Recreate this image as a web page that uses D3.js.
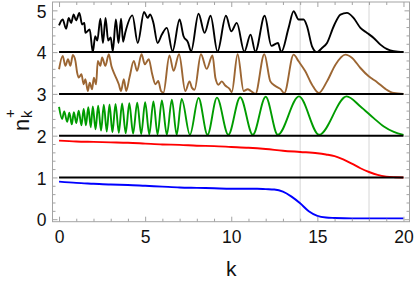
<!DOCTYPE html>
<html><head><meta charset="utf-8">
<script src="https://cdn.jsdelivr.net/npm/d3@7"></script>
<style>
html,body{margin:0;padding:0;background:#fff;}
svg{display:block;font-family:"Liberation Sans",Arial,sans-serif;}
</style></head>
<body><svg id="c" width="415" height="281"></svg>
<script>
// ---------- data ----------
const baseLevels = [1, 2, 3, 4];
const gridK = [14, 18];
const xMajorTicks = [0, 5, 10, 15, 20];
const yMajorTicks = [0, 1, 2, 3, 4, 5];

const blueK = [0,1,2,3,4,5,6,7,8,9,10,11,11.5,12,12.5,13,13.5,14,14.5,15,15.5,16,17,18,19,20];
const blueN = [0.90,0.87,0.85,0.83,0.82,0.80,0.78,0.76,0.75,0.74,0.73,0.73,0.73,0.72,0.71,0.66,0.54,0.38,0.19,0.08,0.04,0.03,0.02,0.02,0.02,0.02];

const redK = [0,1,2,3,4,5,6,7,8,9,10,11,12,13,14,15,15.5,16,16.5,17,17.5,18,18.5,19,19.5,20];
const redN = [1.88,1.86,1.85,1.84,1.83,1.81,1.79,1.78,1.76,1.75,1.73,1.71,1.68,1.64,1.61,1.58,1.55,1.51,1.43,1.33,1.22,1.13,1.06,1.02,1.005,1.0];

const greenK = [0,0.18,0.30,0.47,0.60,0.74,0.86,1.00,1.14,1.30,1.43,1.56,1.70,1.84,1.96,2.12,2.27,2.44,2.60,2.77,2.93,3.10,3.28,3.47,3.66,3.87,4.08,4.30,4.54,4.77,5.00,5.24,5.48,5.72,5.97,6.26,6.55,6.83,7.12,7.60,8.10,8.62,9.17,9.83,10.52,11.25,12.00,12.70,13.93,15.10,16.70,17.50,18.27,18.86,19.44,20];
const greenN = [2.69,2.40,2.58,2.33,2.55,2.27,2.56,2.30,2.60,2.25,2.64,2.25,2.68,2.20,2.70,2.15,2.72,2.12,2.74,2.10,2.75,2.08,2.76,2.07,2.77,2.06,2.78,2.05,2.79,2.04,2.80,2.03,2.82,2.03,2.84,2.02,2.86,2.02,2.88,2.02,2.90,2.02,2.91,2.02,2.92,2.02,2.93,2.02,2.94,2.02,2.94,2.70,2.42,2.22,2.09,2.02];

const brownK = [0,0.21,0.37,0.52,0.66,0.80,0.95,1.05,1.14,1.30,1.43,1.53,1.67,1.78,1.92,2.02,2.15,2.25,2.40,2.50,2.69,2.89,3.04,3.18,3.31,3.47,3.60,3.76,3.90,4.09,4.34,4.53,4.79,4.98,5.21,5.41,5.60,5.76,5.92,6.06,6.41,6.65,6.97,7.33,7.58,7.71,7.87,8.24,8.57,8.91,9.08,9.26,9.45,9.65,9.90,10.03,10.37,10.72,10.95,11.14,11.40,11.92,12.27,12.56,12.85,13.08,13.62,13.91,14.30,14.69,15.08,15.56,16.05,16.63,17.02,17.50,17.98,18.47,18.95,19.44,20];
const brownN = [3.59,3.91,3.67,3.83,3.67,3.93,3.79,3.51,3.39,3.47,3.23,3.35,3.07,3.27,3.11,3.39,3.23,3.79,3.67,3.87,3.67,3.95,3.67,3.51,3.39,3.23,3.07,3.35,3.07,3.39,3.79,3.55,3.95,3.71,3.83,3.47,3.23,3.31,3.07,3.03,3.92,3.55,3.95,3.07,3.30,3.15,3.10,3.95,3.60,3.92,3.38,3.22,3.30,3.20,3.12,3.04,3.95,3.07,3.11,3.07,3.00,3.95,3.30,3.19,3.12,3.02,3.94,3.78,3.54,3.22,3.02,3.30,3.70,3.94,3.86,3.62,3.42,3.28,3.12,3.02,3.00];

const blackK = [0,0.21,0.41,0.56,0.70,0.85,0.99,1.18,1.34,1.47,1.53,1.78,1.96,2.10,2.22,2.40,2.55,2.70,2.85,3.00,3.12,3.30,3.45,3.60,3.72,3.84,4.26,4.57,4.94,5.14,5.29,5.48,5.72,5.97,6.26,6.59,7.00,7.23,7.48,7.67,8.10,8.45,8.80,9.20,9.69,10.00,10.32,10.76,11.12,11.40,11.94,12.33,12.71,12.90,13.33,13.62,13.91,14.20,14.40,14.69,14.98,15.27,15.56,15.95,16.34,16.72,17.10,17.50,17.89,18.27,18.66,19.05,19.44,20];
const blackN = [4.64,4.78,4.56,4.82,4.70,4.90,4.76,4.94,4.66,4.70,4.46,4.54,4.00,4.38,4.28,4.80,4.22,4.82,4.28,4.35,4.02,4.78,4.22,4.80,4.25,4.46,4.88,4.22,4.96,4.82,4.90,4.70,4.22,4.42,4.58,4.02,4.78,4.38,4.24,4.02,4.92,4.46,4.87,4.01,4.87,4.50,4.70,4.01,4.42,4.01,4.87,4.15,4.22,4.00,4.58,4.98,4.78,4.78,4.62,4.14,4.00,4.10,4.22,4.62,4.90,4.94,4.82,4.58,4.46,4.34,4.18,4.07,4.02,4.00];

const series = [
  {k: blueK,  n: blueN,  color: "#0000ff"},
  {k: redK,   n: redN,   color: "#ff0000"},
  {k: greenK, n: greenN, color: "#009c00"},
  {k: brownK, n: brownN, color: "#9c6633"},
  {k: blackK, n: blackN, color: "#000000"}
];

// ---------- chart ----------
const svg = d3.select("#c");
const L = 52.5, R = 409.5, T = 2, B = 221.7;
const x = d3.scaleLinear().domain([-0.38, 20.35]).range([L, R]);
const y = d3.scaleLinear().domain([-0.06, 5.2]).range([B, T]);
const frameColor = "#a3a3a3";

// grid lines
svg.append("g").selectAll("line").data(gridK).join("line")
  .attr("x1", d => x(d)).attr("x2", d => x(d))
  .attr("y1", T).attr("y2", B)
  .attr("stroke", "#d6d6d6").attr("stroke-width", 1);

// curves
const line = d3.line().x(d => x(d[0])).y(d => y(d[1])).curve(d3.curveMonotoneX);
series.forEach(s => {
  svg.append("path")
    .datum(s.k.map((k, i) => [k, s.n[i]]))
    .attr("fill", "none").attr("stroke", s.color)
    .attr("stroke-width", 1.9).attr("stroke-linejoin", "round")
    .attr("d", line);
});

// baseline black lines
svg.append("g").selectAll("line").data(baseLevels).join("line")
  .attr("x1", x(0)).attr("x2", x(20))
  .attr("y1", d => y(d)).attr("y2", d => y(d))
  .attr("stroke", "#000").attr("stroke-width", 2);

// frame
svg.append("rect").attr("x", L).attr("y", T).attr("width", R - L).attr("height", B - T)
  .attr("fill", "none").attr("stroke", frameColor).attr("stroke-width", 1);

const xMinor = d3.range(0, 21, 1).filter(v => !xMajorTicks.includes(v));
const yMinor = d3.range(0, 26, 1).map(v => +(v * 0.2).toFixed(1)).filter(v => !yMajorTicks.includes(v));

function styleAxis(g) {
  g.select(".domain").remove();
  g.selectAll(".tick line").attr("stroke", frameColor);
  g.selectAll(".tick text").attr("fill", "#111").style("font-size", "17.5px")
    .style("font-family", '"Liberation Sans", Arial, sans-serif');
}

// bottom
svg.append("g").attr("transform", `translate(0,${B})`)
  .call(d3.axisBottom(x).tickValues(xMajorTicks).tickSize(-5).tickPadding(9).tickFormat(d3.format("d")))
  .call(styleAxis);
svg.append("g").attr("transform", `translate(0,${B})`)
  .call(d3.axisBottom(x).tickValues(xMinor).tickSize(-3).tickFormat(""))
  .call(styleAxis);
// top
svg.append("g").attr("transform", `translate(0,${T})`)
  .call(d3.axisTop(x).tickValues(xMajorTicks).tickSize(-5).tickFormat(""))
  .call(styleAxis);
svg.append("g").attr("transform", `translate(0,${T})`)
  .call(d3.axisTop(x).tickValues(xMinor).tickSize(-3).tickFormat(""))
  .call(styleAxis);
// left
svg.append("g").attr("transform", `translate(${L},0)`)
  .call(d3.axisLeft(y).tickValues(yMajorTicks).tickSize(-5).tickPadding(6).tickFormat(d3.format("d")))
  .call(styleAxis)
  .call(g => g.selectAll(".tick text").attr("dy", "0.38em"));
svg.append("g").attr("transform", `translate(${L},0)`)
  .call(d3.axisLeft(y).tickValues(yMinor).tickSize(-3).tickFormat(""))
  .call(styleAxis);
// right
svg.append("g").attr("transform", `translate(${R},0)`)
  .call(d3.axisRight(y).tickValues(yMajorTicks).tickSize(-5).tickFormat(""))
  .call(styleAxis);
svg.append("g").attr("transform", `translate(${R},0)`)
  .call(d3.axisRight(y).tickValues(yMinor).tickSize(-3).tickFormat(""))
  .call(styleAxis);

// axis labels
svg.append("text").attr("x", x(10)).attr("y", 276).attr("text-anchor", "middle")
  .style("font-size", "21px").attr("fill", "#111").text("k");

const yl = svg.append("g").attr("transform", "translate(29,131) rotate(-90)");
yl.append("text").attr("x", 0).attr("y", 0).style("font-size", "22px").attr("fill", "#111").text("n");
yl.append("text").attr("x", 13).attr("y", 3).style("font-size", "15px").attr("fill", "#111").text("k");
yl.append("text").attr("x", 13).attr("y", -14).style("font-size", "15px").attr("fill", "#111").text("+");
</script></body></html>
